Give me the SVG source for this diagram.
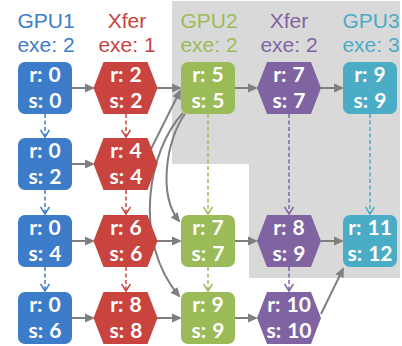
<svg xmlns="http://www.w3.org/2000/svg" width="402" height="346" viewBox="0 0 402 346">
  <style>
    .hd { font-family: "Liberation Sans", Arial, sans-serif; font-size: 21px; text-anchor: middle; }
    .nt { font-family: Lato, "Open Sans", sans-serif; font-weight: 700; font-size: 21px; fill: #ffffff; text-anchor: middle; word-spacing: 1px; }
    .blue { fill: #3d7cc9; }
    .red { fill: #c9443e; }
    .green { fill: #9bbb59; }
    .purple { fill: #8064a2; }
    .teal { fill: #4bacc6; }
    .solid { fill: none; stroke: #7f7f7f; stroke-width: 2; marker-end: url(#ah); }
    .dash { fill: none; stroke-width: 1.5; stroke-dasharray: 4 2.5; }
  </style>
  <defs>
    <marker id="ah" viewBox="0 0 10 10" refX="8" refY="5" markerWidth="10" markerHeight="10" markerUnits="userSpaceOnUse" orient="auto">
      <path d="M0,0.5 L10,5 L0,9.5 z" fill="#7f7f7f"/>
    </marker>
    <marker id="vb" viewBox="0 0 10 10" refX="8" refY="5" markerWidth="10" markerHeight="10" markerUnits="userSpaceOnUse" orient="auto">
      <path d="M1,0.5 L8,5 L1,9.5" fill="none" stroke="#3d7cc9" stroke-width="1.5"/>
    </marker>
    <marker id="vr" viewBox="0 0 10 10" refX="8" refY="5" markerWidth="10" markerHeight="10" markerUnits="userSpaceOnUse" orient="auto">
      <path d="M1,0.5 L8,5 L1,9.5" fill="none" stroke="#c9443e" stroke-width="1.5"/>
    </marker>
    <marker id="vg" viewBox="0 0 10 10" refX="8" refY="5" markerWidth="10" markerHeight="10" markerUnits="userSpaceOnUse" orient="auto">
      <path d="M1,0.5 L8,5 L1,9.5" fill="none" stroke="#9bbb59" stroke-width="1.5"/>
    </marker>
    <marker id="vp" viewBox="0 0 10 10" refX="8" refY="5" markerWidth="10" markerHeight="10" markerUnits="userSpaceOnUse" orient="auto">
      <path d="M1,0.5 L8,5 L1,9.5" fill="none" stroke="#8064a2" stroke-width="1.5"/>
    </marker>
    <marker id="vt" viewBox="0 0 10 10" refX="8" refY="5" markerWidth="10" markerHeight="10" markerUnits="userSpaceOnUse" orient="auto">
      <path d="M1,0.5 L8,5 L1,9.5" fill="none" stroke="#4bacc6" stroke-width="1.5"/>
    </marker>
    <!-- hexagon centred on origin -->
    <polygon id="hex" points="-32,0 -22,-26 22,-26 32,0 22,26 -22,26"/>
  </defs>

  <rect width="402" height="346" fill="#ffffff"/>
  <!-- shaded region -->
  <path d="M172,1 H400 V278 H249 V164 H172 Z" fill="#d9d9d9"/>

  <!-- column headers -->
  <g id="headers">
    <text class="hd" x="46" y="28" fill="#3d7cc9">GPU1</text>
    <text class="hd" x="46" y="52" fill="#3d7cc9">exe: 2</text>
    <text class="hd" x="127" y="28" fill="#c9443e">Xfer</text>
    <text class="hd" x="127" y="52" fill="#c9443e">exe: 1</text>
    <text class="hd" x="209" y="28" fill="#9bbb59">GPU2</text>
    <text class="hd" x="209" y="52" fill="#9bbb59">exe: 2</text>
    <text class="hd" x="289" y="28" fill="#8064a2">Xfer</text>
    <text class="hd" x="289" y="52" fill="#8064a2">exe: 2</text>
    <text class="hd" x="371" y="28" fill="#4bacc6">GPU3</text>
    <text class="hd" x="371" y="52" fill="#4bacc6">exe: 3</text>
  </g>

  <!-- connectors -->
  <g id="connectors">
    <!-- row 1 -->
    <path class="solid" d="M72,88 H93"/>
    <path class="solid" d="M157,88 H180"/>
    <path class="solid" d="M235,88 H256"/>
    <path class="solid" d="M321,88 H342"/>
    <!-- row 2 -->
    <path class="solid" d="M72,164 H93"/>
    <!-- row 3 -->
    <path class="solid" d="M72,241 H93"/>
    <path class="solid" d="M157,241 H180"/>
    <path class="solid" d="M235,241 H256"/>
    <path class="solid" d="M321,241 H342"/>
    <!-- row 4 -->
    <path class="solid" d="M72,318 H93"/>
    <path class="solid" d="M157,318 H180"/>
    <path class="solid" d="M235,318 H256"/>
    <path class="solid" d="M321,314 L343,269"/>
    <!-- cross-row links -->
    <path class="solid" d="M150,151 L180,91"/>
    <path class="solid" d="M185,114 C166,140 158,195 179,221"/>
    <path class="solid" d="M183,113 C148,150 132,240 179,296"/>

    <!-- dashed vertical links -->
    <path class="dash" stroke="#3d7cc9" marker-end="url(#vb)" d="M45,114 V137"/>
    <path class="dash" stroke="#3d7cc9" marker-end="url(#vb)" d="M45,190 V214"/>
    <path class="dash" stroke="#3d7cc9" marker-end="url(#vb)" d="M45,267 V291"/>
    <path class="dash" stroke="#c9443e" marker-end="url(#vr)" d="M126,114 V137"/>
    <path class="dash" stroke="#c9443e" marker-end="url(#vr)" d="M126,190 V214"/>
    <path class="dash" stroke="#c9443e" marker-end="url(#vr)" d="M126,267 V291"/>
    <path class="dash" stroke="#9bbb59" marker-end="url(#vg)" d="M208,114 V214"/>
    <path class="dash" stroke="#9bbb59" marker-end="url(#vg)" d="M208,267 V291"/>
    <path class="dash" stroke="#8064a2" marker-end="url(#vp)" d="M289,114 V214"/>
    <path class="dash" stroke="#8064a2" marker-end="url(#vp)" d="M289,267 V291"/>
    <path class="dash" stroke="#4bacc6" marker-end="url(#vt)" d="M370,114 V214"/>
  </g>

  <!-- GPU1 column -->
  <g id="gpu1-r1"><rect class="blue" x="18" y="62" width="54" height="52" rx="7"/><text class="nt" x="45" y="82">r: 0</text><text class="nt" x="45" y="108">s: 0</text></g>
  <g id="gpu1-r2"><rect class="blue" x="18" y="138" width="54" height="52" rx="7"/><text class="nt" x="45" y="158">r: 0</text><text class="nt" x="45" y="184">s: 2</text></g>
  <g id="gpu1-r3"><rect class="blue" x="18" y="215" width="54" height="52" rx="7"/><text class="nt" x="45" y="235">r: 0</text><text class="nt" x="45" y="261">s: 4</text></g>
  <g id="gpu1-r4"><rect class="blue" x="18" y="292" width="54" height="52" rx="7"/><text class="nt" x="45" y="312">r: 0</text><text class="nt" x="45" y="338">s: 6</text></g>

  <!-- Xfer (GPU1 to GPU2) column -->
  <g id="xfer1-r1"><use href="#hex" class="red" x="125.5" y="88"/><text class="nt" x="126" y="82">r: 2</text><text class="nt" x="126" y="108">s: 2</text></g>
  <g id="xfer1-r2"><use href="#hex" class="red" x="125.5" y="164"/><text class="nt" x="126" y="158">r: 4</text><text class="nt" x="126" y="184">s: 4</text></g>
  <g id="xfer1-r3"><use href="#hex" class="red" x="125.5" y="241"/><text class="nt" x="126" y="235">r: 6</text><text class="nt" x="126" y="261">s: 6</text></g>
  <g id="xfer1-r4"><use href="#hex" class="red" x="125.5" y="318"/><text class="nt" x="126" y="312">r: 8</text><text class="nt" x="126" y="338">s: 8</text></g>

  <!-- GPU2 column -->
  <g id="gpu2-r1"><rect class="green" x="181" y="62" width="54" height="52" rx="7"/><text class="nt" x="208" y="82">r: 5</text><text class="nt" x="208" y="108">s: 5</text></g>
  <g id="gpu2-r3"><rect class="green" x="181" y="215" width="54" height="52" rx="7"/><text class="nt" x="208" y="235">r: 7</text><text class="nt" x="208" y="261">s: 7</text></g>
  <g id="gpu2-r4"><rect class="green" x="181" y="292" width="54" height="52" rx="7"/><text class="nt" x="208" y="312">r: 9</text><text class="nt" x="208" y="338">s: 9</text></g>

  <!-- Xfer (GPU2 to GPU3) column -->
  <g id="xfer2-r1"><use href="#hex" class="purple" x="289" y="88"/><text class="nt" x="289" y="82">r: 7</text><text class="nt" x="289" y="108">s: 7</text></g>
  <g id="xfer2-r3"><use href="#hex" class="purple" x="289" y="241"/><text class="nt" x="289" y="235">r: 8</text><text class="nt" x="289" y="261">s: 9</text></g>
  <g id="xfer2-r4"><use href="#hex" class="purple" x="289" y="318"/><text class="nt" x="289" y="312">r: 10</text><text class="nt" x="289" y="338">s: 10</text></g>

  <!-- GPU3 column -->
  <g id="gpu3-r1"><rect class="teal" x="343" y="62" width="54" height="52" rx="7"/><text class="nt" x="370" y="82">r: 9</text><text class="nt" x="370" y="108">s: 9</text></g>
  <g id="gpu3-r3"><rect class="teal" x="343" y="215" width="54" height="52" rx="7"/><text class="nt" x="370" y="235">r: 11</text><text class="nt" x="370" y="261">s: 12</text></g>
</svg>
